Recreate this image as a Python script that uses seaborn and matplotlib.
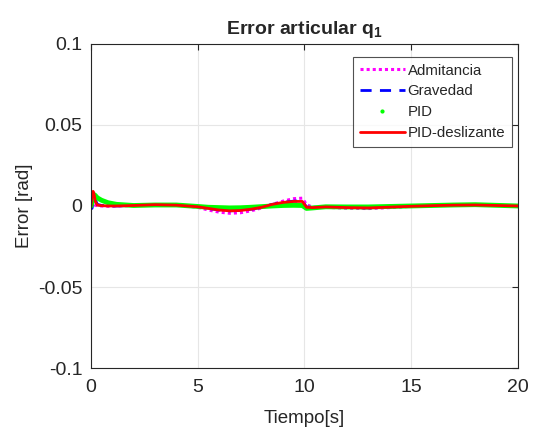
import matplotlib
matplotlib.use("Agg")
import matplotlib.pyplot as plt
from matplotlib.lines import Line2D
import seaborn as sns
import pandas as pd

# Sample times [s]
t = [0, 0.05, 0.1, 0.15, 0.2, 0.3, 0.5, 0.8, 1.2, 2, 3, 4, 5, 5.5, 6, 6.5, 7,
     7.5, 8, 8.5, 9, 9.5, 9.9, 10.1, 10.4, 11, 12, 13, 14, 15, 16, 17, 18, 19, 20]

# Joint error q1 [rad] per controller
admitancia = [0, 0.001, 0.002, 0.001, 0.0005, 0.0002, 0, -0.0002, 0, 0.0003, 0.0008,
              0.0006, -0.0008, -0.0025, -0.0038, -0.0045, -0.0042, -0.003, -0.0012,
              0.001, 0.003, 0.0045, 0.0048, 0.0008, -0.0008, -0.0008, -0.0014,
              -0.0016, -0.001, -0.0002, 0.0002, 0.0005, 0.0006, 0.0003, 0]
gravedad = [0, -0.0015, 0.003, 0.006, 0.004, 0.001, 0.0003, 0, 0, 0.0003, 0.0008,
            0.0005, -0.0005, -0.0015, -0.0025, -0.003, -0.0028, -0.002, -0.0008,
            0.001, 0.0022, 0.003, 0.003, -0.0006, -0.001, -0.0006, -0.001, -0.0012,
            -0.0007, -0.0002, 0.0002, 0.0005, 0.0006, 0.0003, 0]
pid = [0, 0.002, 0.005, 0.007, 0.0065, 0.005, 0.0035, 0.002, 0.001, 0.0003, 0.0006,
       0.0006, -0.0003, -0.0008, -0.001, -0.0012, -0.0011, -0.0008, -0.0004, 0,
       0.0003, 0.0004, 0.0003, -0.0015, -0.0012, -0.0005, -0.0006, -0.0006,
       -0.0003, 0, 0.0003, 0.0006, 0.0008, 0.0004, 0]
pid_desl = [0, 0.006, 0.009, 0.007, 0.003, 0.0005, 0.0002, 0, 0, 0.0003, 0.0008,
            0.0005, -0.0005, -0.0015, -0.0025, -0.003, -0.0028, -0.002, -0.0008,
            0.001, 0.0022, 0.0028, 0.0028, -0.0008, -0.001, -0.0006, -0.001,
            -0.0012, -0.0007, -0.0002, 0.0002, 0.0005, 0.0006, 0.0003, 0]

x_ticks = [0, 5, 10, 15, 20]
y_ticks = [-0.1, -0.05, 0, 0.05, 0.1]
y_tick_labels = ["-0.1", "-0.05", "0", "0.05", "0.1"]

sns.set_style("white")
plt.rcParams["font.family"] = ["Liberation Sans", "DejaVu Sans"]
plt.rcParams["mathtext.fontset"] = "custom"
plt.rcParams["mathtext.rm"] = "Liberation Sans"
plt.rcParams["mathtext.bf"] = "Liberation Sans:bold"

fig = plt.figure(figsize=(5.35, 4.3), dpi=100)
ax = fig.add_axes([0.170, 0.144, 0.798, 0.754])

df = pd.DataFrame({"t": t, "adm": admitancia, "grav": gravedad,
                   "pid": pid, "pidd": pid_desl})

sns.lineplot(data=df, x="t", y="adm", ax=ax, color="#ff00ff", linestyle=(0, (1, 1)),
             linewidth=2.2, label="Admitancia")
sns.lineplot(data=df, x="t", y="grav", ax=ax, color="#0000ff", linestyle=(0, (4, 3)),
             linewidth=2, label="Gravedad")
sns.lineplot(data=df, x="t", y="pid", ax=ax, color="#00ff00", linewidth=3.5,
             label="PID")
sns.lineplot(data=df, x="t", y="pidd", ax=ax, color="#ff0000", linewidth=2,
             label="PID-deslizante")

ax.set_xlim(0, 20)
ax.set_ylim(-0.1, 0.1)
ax.set_xticks(x_ticks)
ax.set_xticklabels([str(v) for v in x_ticks])
ax.set_yticks(y_ticks)
ax.set_yticklabels(y_tick_labels)
ax.tick_params(axis="both", direction="in", length=4, labelsize=14,
               top=True, right=True, color="#262626", labelcolor="#262626")
ax.tick_params(axis="y", pad=6)
ax.tick_params(axis="x", pad=8)
ax.grid(True, color="#e6e6e6", linewidth=0.8)
for s in ax.spines.values():
    s.set_visible(True)
    s.set_color("#262626")
    s.set_linewidth(0.8)

ax.set_xlabel("Tiempo[s]", fontsize=13.5, color="#262626", labelpad=10)
ax.set_ylabel("Error [rad]", fontsize=13.5, color="#262626", labelpad=4)
ax.set_title(r"Error articular $\mathbf{q_1}$", fontsize=14, fontweight="bold",
             pad=7)

handles = [
    Line2D([], [], color="#ff00ff", linestyle=(0, (1, 1)), linewidth=2.2),
    Line2D([], [], color="#0000ff", linestyle=(0, (4, 3)), linewidth=2),
    Line2D([], [], color="#00ff00", linestyle="none", marker=".", markersize=4),
    Line2D([], [], color="#ff0000", linewidth=2),
]
leg = ax.legend(handles, ["Admitancia", "Gravedad", "PID", "PID-deslizante"],
                loc="upper right", fontsize=10.8, frameon=True, fancybox=False,
                edgecolor="#262626", handlelength=3.0, handletextpad=0.2,
                borderpad=0.45, labelspacing=0.45, borderaxespad=0,
                bbox_to_anchor=(0.986, 0.96))
leg.get_frame().set_linewidth(0.8)

fig.savefig("out.png", dpi=100)
